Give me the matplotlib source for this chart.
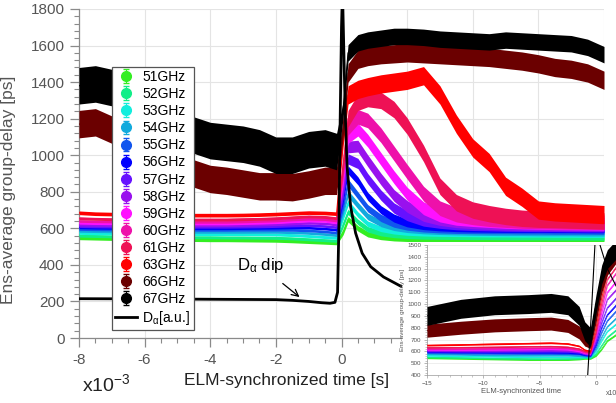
"""ELM-synchronized ensemble-average group delay per reflectometer channel."""

import matplotlib.pyplot as plt
import numpy as np
from matplotlib.patches import Rectangle
from matplotlib.ticker import MultipleLocator

plt.rcParams["font.family"] = ["Liberation Sans", "DejaVu Sans"]
plt.rcParams["mathtext.fontset"] = "custom"
plt.rcParams["mathtext.rm"] = "Liberation Sans"
plt.rcParams["mathtext.it"] = "Liberation Sans"

# time axis of the main panel, ms
t_ms = [-8, -7.5, -7, -6.5, -6, -5.5, -5, -4.5, -4, -3.5, -3, -2.5, -2, -1.5, -1, -0.5, -0.15,
        0.05, 0.2, 0.5, 0.8, 1.2, 1.6, 2.0, 2.5, 3.0, 3.5, 4.0, 4.5, 5.0, 5.5, 6.0, 6.5, 7.0, 7.5, 8.0]

labels = ["51GHz", "52GHz", "53GHz", "54GHz", "55GHz", "56GHz", "57GHz",
          "58GHz", "59GHz", "60GHz", "61GHz", "63GHz", "66GHz", "67GHz"]
colors = ["#33ee22", "#11ee88", "#11eedd", "#11aadd", "#1155ee", "#0000ff", "#6611ff",
          "#9911ee", "#ff11ff", "#ee11aa", "#ee1155", "#ff0000", "#6b0000", "#000000"]

gd_51 = [548, 546, 544, 542, 541, 540, 539, 538, 537, 537, 536, 535, 534, 531, 527, 523, 520,
         580, 650, 600, 568, 553, 546, 543, 541, 540, 539, 539, 538, 538, 538, 537, 537, 537, 536, 536]
gd_52 = [560, 558, 556, 555, 554, 553, 552, 551, 551, 550, 550, 549, 548, 545, 540, 535, 532,
         620, 690, 635, 595, 574, 564, 559, 556, 555, 554, 553, 553, 552, 552, 552, 551, 551, 551, 550]
gd_53 = [575, 573, 572, 571, 570, 569, 568, 568, 568, 568, 568, 567, 566, 563, 558, 552, 548,
         660, 740, 675, 625, 597, 584, 577, 573, 571, 570, 569, 568, 568, 567, 567, 566, 566, 565, 565]
gd_54 = [586, 584, 583, 582, 581, 580, 580, 580, 580, 580, 580, 580, 580, 578, 574, 568, 562,
         690, 790, 725, 665, 627, 606, 595, 588, 584, 582, 580, 579, 578, 578, 577, 577, 577, 576, 576]
gd_55 = [596, 594, 593, 592, 592, 591, 591, 591, 591, 591, 592, 592, 592, 591, 588, 582, 576,
         720, 850, 780, 710, 657, 626, 610, 600, 595, 592, 591, 590, 590, 589, 589, 588, 588, 588, 587]
gd_56 = [605, 603, 602, 601, 600, 600, 600, 600, 600, 600, 601, 602, 603, 604, 603, 598, 592,
         760, 920, 860, 775, 702, 656, 630, 615, 608, 604, 602, 601, 600, 600, 600, 599, 599, 598, 598]
gd_57 = [612, 610, 609, 608, 608, 608, 608, 608, 608, 608, 609, 610, 612, 615, 617, 612, 606,
         790, 980, 955, 872, 782, 711, 670, 640, 628, 620, 616, 614, 612, 611, 610, 610, 609, 608, 608]
gd_58 = [620, 618, 617, 617, 616, 616, 616, 616, 616, 617, 618, 620, 622, 626, 630, 627, 620,
         830, 1045, 1050, 970, 870, 780, 720, 670, 648, 636, 630, 626, 623, 621, 620, 619, 618, 617, 616]
gd_59 = [630, 628, 627, 626, 626, 626, 626, 626, 626, 626, 628, 630, 633, 638, 642, 640, 632,
         870, 1100, 1140, 1080, 980, 880, 790, 710, 670, 652, 645, 640, 635, 632, 630, 628, 627, 626, 625]
gd_60 = [640, 638, 637, 636, 635, 635, 635, 635, 635, 635, 637, 640, 642, 648, 652, 650, 642,
         910, 1150, 1210, 1190, 1110, 1010, 910, 790, 710, 675, 660, 650, 645, 640, 638, 636, 635, 634, 633]
gd_61 = [655, 652, 650, 650, 648, 648, 648, 648, 648, 648, 650, 652, 655, 660, 665, 662, 655,
         950, 1200, 1290, 1310, 1300, 1250, 1160, 1010, 830, 740, 700, 680, 665, 655, 650, 648, 645, 643, 640]
gd_63 = [685, 680, 678, 676, 675, 674, 673, 672, 672, 672, 673, 675, 678, 682, 686, 684, 680,
         1100, 1330, 1360, 1375, 1390, 1400, 1410, 1435, 1330, 1170, 1040, 960, 830, 770, 700, 690, 685, 680, 675]
gd_66 = [1170, 1180, 1140, 1100, 1050, 1000, 950, 900, 870, 860, 845, 830, 830, 825, 840, 860, 860,
         1150, 1450, 1525, 1540, 1550, 1555, 1560, 1555, 1550, 1545, 1540, 1535, 1525, 1515, 1500, 1480, 1470, 1450, 1410]
gd_67 = [1380, 1390, 1370, 1320, 1270, 1220, 1160, 1110, 1080, 1070, 1060, 1040, 1000, 1000, 1030, 1040, 1020,
         1250, 1560, 1615, 1630, 1640, 1650, 1650, 1645, 1635, 1630, 1625, 1620, 1630, 1625, 1620, 1615, 1610, 1590, 1550]

# half-width of the error-bar spread before / after the ELM crash
err_pre = [10, 8, 8, 7, 7, 7, 7, 7, 7, 7, 8, 10, 75, 100]
err_post = [15, 15, 15, 18, 20, 22, 28, 32, 35, 40, 45, 50, 50, 45]

# D-alpha trace (a.u., scaled onto the delay axis)
t_da = [-8, -6, -4, -2, -1.5, -1, -0.6, -0.35, -0.2, -0.12, -0.08, -0.04, 0.0, 0.03,
        0.08, 0.12, 0.17, 0.28, 0.43, 0.63, 0.89, 1.28, 1.8, 2.5, 3.5, 5, 8]
da = [215, 214, 212, 210, 206, 200, 193, 190, 195, 250, 600, 1200, 1700, 1900,
      1500, 1200, 935, 717, 574, 464, 390, 334, 284, 255, 240, 230, 225]

# inset: longer pre-ELM window
t_in = [-15, -12, -9, -6, -4, -2.5, -1.5, -1, -0.5, 0, 0.5, 1, 1.77]
in_51 = [545, 540, 535, 530, 530, 530, 535, 540, 540, 565, 620, 690, 740]
in_52 = [552, 547, 542, 538, 537, 538, 540, 545, 545, 580, 650, 720, 780]
in_53 = [565, 560, 556, 553, 552, 552, 552, 552, 552, 600, 690, 770, 830]
in_54 = [578, 573, 568, 566, 566, 566, 562, 557, 556, 620, 720, 810, 880]
in_55 = [588, 584, 581, 580, 580, 579, 574, 566, 561, 640, 760, 860, 940]
in_56 = [598, 594, 591, 590, 590, 589, 582, 571, 566, 660, 800, 910, 990]
in_57 = [603, 600, 599, 600, 601, 599, 591, 577, 571, 680, 840, 970, 1050]
in_58 = [608, 606, 606, 608, 610, 606, 596, 581, 576, 700, 880, 1040, 1120]
in_59 = [615, 614, 616, 619, 621, 617, 602, 586, 581, 720, 920, 1100, 1190]
in_60 = [622, 622, 624, 627, 630, 626, 612, 591, 586, 740, 960, 1160, 1260]
in_61 = [632, 634, 637, 641, 643, 637, 622, 601, 591, 760, 1000, 1210, 1310]
in_63 = [652, 657, 663, 668, 672, 665, 645, 612, 602, 800, 1050, 1260, 1360]
in_66 = [775, 800, 820, 830, 835, 815, 760, 700, 680, 900, 1150, 1300, 1400]
in_67 = [900, 960, 990, 1000, 1010, 990, 900, 770, 720, 1000, 1250, 1380, 1460]
in_err = [7, 6, 6, 6, 6, 6, 6, 6, 6, 6, 6, 7, 55, 80]

t_da_in = [-15, -1.0, -0.74, -0.4, -0.1, 0.1, 0.35, 1.0, 1.77]
da_in = [250, 240, 400, 950, 1500, 1800, 1500, 1300, 1154]

main_series = [gd_51, gd_52, gd_53, gd_54, gd_55, gd_56, gd_57,
               gd_58, gd_59, gd_60, gd_61, gd_63, gd_66, gd_67]
inset_series = [in_51, in_52, in_53, in_54, in_55, in_56, in_57,
                in_58, in_59, in_60, in_61, in_63, in_66, in_67]

W, H = 616, 403
fig = plt.figure(figsize=(W / 100, H / 100), dpi=100)
ax = fig.add_axes([79 / W, 65 / H, 525 / W, 329 / H])

t = np.array(t_ms)
handles = []
for i, (vals, c) in enumerate(zip(main_series, colors)):
    y = np.array(vals, dtype=float)
    e = np.where(t < 0, err_pre[i], err_post[i])
    ax.fill_between(t, y - e, y + e, color=c, lw=0, zorder=2 + i)
    ax.plot(t, y, color=c, lw=0.8, zorder=2 + i)
    # empty errorbar only to get the legend handle look
    h = ax.errorbar([np.nan], [np.nan], yerr=[1], fmt="o", color=c, ms=7,
                    ecolor=c, elinewidth=0.8, capsize=2, label=labels[i])
    handles.append(h)
(da_line,) = ax.plot(t_da, da, color="black", lw=2, zorder=30)
handles.append(da_line)

ax.set_xlim(-8, 8)
ax.set_ylim(0, 1800)
ax.xaxis.set_major_locator(MultipleLocator(2))
ax.xaxis.set_minor_locator(MultipleLocator(0.5))
ax.yaxis.set_major_locator(MultipleLocator(200))
ax.yaxis.set_minor_locator(MultipleLocator(40))
ax.grid(True, which="major", color="#e4e4e4", lw=0.8, zorder=0)
ax.set_axisbelow(True)
for side in ("top", "right"):
    ax.spines[side].set_visible(False)
for side in ("left", "bottom"):
    ax.spines[side].set_color("#8a8a8a")
    ax.spines[side].set_linewidth(0.9)
ax.tick_params(which="major", direction="out", length=6.5, width=0.9, color="#8a8a8a",
               labelsize=11, labelcolor="#555555", pad=4)
ax.tick_params(which="minor", direction="out", length=3.5, width=0.8, color="#8a8a8a")
ax.set_xticklabels([f"{v:g}" for v in ax.get_xticks()])

ax.set_ylabel("Ens-average group-delay [ps]", fontsize=12.5, color="#555555")
ax.yaxis.set_label_coords(-0.12, 0.45)
ax.set_xlabel("ELM-synchronized time [s]", fontsize=12.5, color="#222222")
ax.xaxis.set_label_coords(0.396, -0.105)
fig.text(82 / W, 1 - 391 / H, r"x10$^{-3}$", fontsize=14, color="#222222",
         va="baseline", ha="left")

ax.annotate(r"D$_\mathrm{\alpha}$ dip", xy=(-1.28, 224), xytext=(-2.45, 394),
            fontsize=12, ha="center", va="center", zorder=31,
            arrowprops={"arrowstyle": "->", "color": "black", "lw": 0.9,
                        "shrinkA": 6, "shrinkB": 0})

leg = ax.legend(handles, labels + [r"D$_\mathrm{\alpha}$[a.u.]"],
                loc="upper left", bbox_to_anchor=(0.0623, 0.8246), borderaxespad=0,
                fontsize=10, frameon=True, fancybox=False, framealpha=1,
                edgecolor="#555555", labelspacing=0.22, handlelength=1.6,
                handletextpad=0.35, borderpad=0.25, numpoints=1)
leg.get_frame().set_linewidth(0.9)
leg.set_zorder(40)

# inset panel pasted over the lower right corner
fig.add_artist(Rectangle((402 / W, 0), 214 / W, 161 / H, transform=fig.transFigure,
                         facecolor="white", edgecolor="none", zorder=5))
axi = fig.add_axes([427 / W, 28 / H, 189 / W, 130 / H])
axi.set_zorder(6)
ti = np.array(t_in)
for i, (vals, c) in enumerate(zip(inset_series, colors)):
    y = np.array(vals, dtype=float)
    axi.fill_between(ti, y - in_err[i], y + in_err[i], color=c, lw=0, zorder=2 + i)
    axi.plot(ti, y, color=c, lw=0.6, zorder=2 + i)
axi.plot(t_da_in, da_in, color="black", lw=0.8, zorder=30)
axi.set_xlim(-15, 1.77)
axi.set_ylim(400, 1500)
axi.xaxis.set_major_locator(MultipleLocator(5))
axi.xaxis.set_minor_locator(MultipleLocator(1))
axi.yaxis.set_major_locator(MultipleLocator(100))
axi.yaxis.set_minor_locator(MultipleLocator(20))
axi.grid(True, which="major", color="#e8e8e8", lw=0.5)
axi.set_axisbelow(True)
for side in ("top", "right"):
    axi.spines[side].set_visible(False)
for side in ("left", "bottom"):
    axi.spines[side].set_color("#999999")
    axi.spines[side].set_linewidth(0.5)
axi.tick_params(which="major", direction="out", length=2.5, width=0.5, color="#999999",
                labelsize=4.5, labelcolor="#555555", pad=1.5)
axi.tick_params(which="minor", direction="out", length=1.3, width=0.4, color="#999999")
axi.set_ylabel("Ens-average group-delay [ps]", fontsize=4.5, color="#555555", labelpad=2)
axi.set_xlabel("ELM-synchronized time", fontsize=5.5, color="#555555", labelpad=1.5)
fig.text(606 / W, 1 - 395 / H, "x10", fontsize=5, color="#555555", zorder=7)

fig.savefig("out.png", dpi=100)
